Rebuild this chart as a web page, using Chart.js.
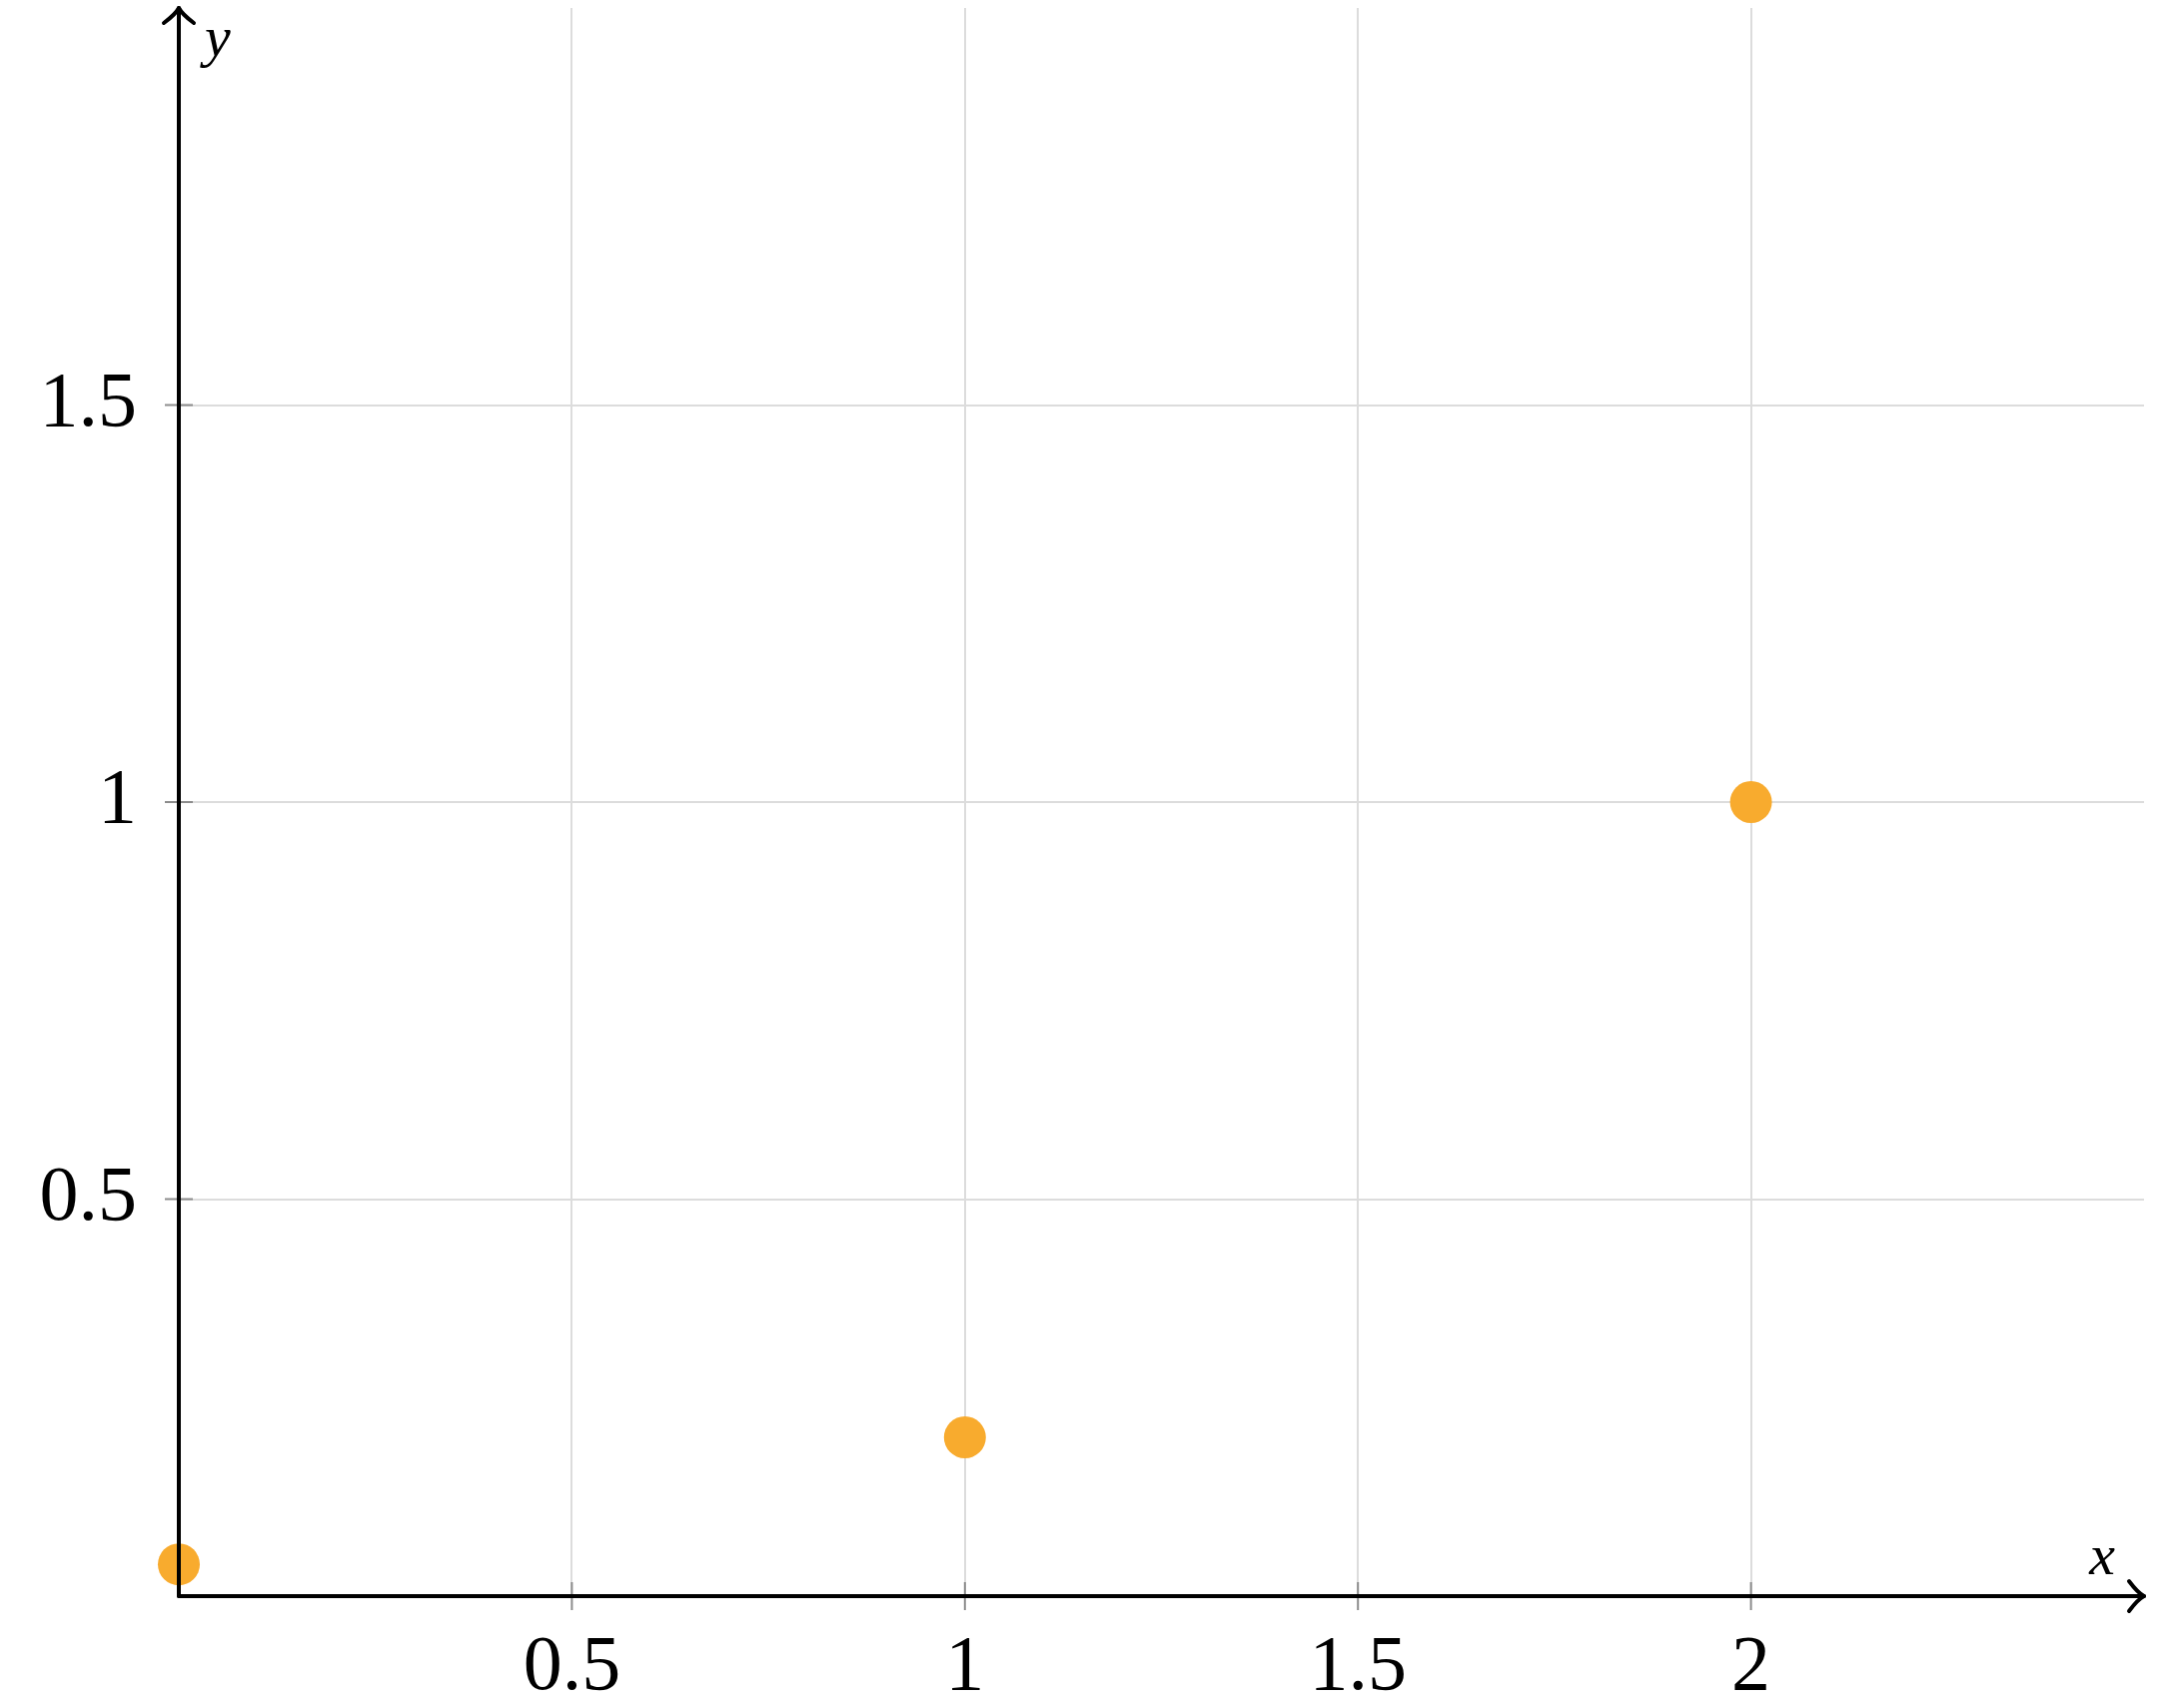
<!DOCTYPE html>
<html>
<head>
<meta charset="utf-8">
<script src="https://cdn.jsdelivr.net/npm/chart.js@4.4.1/dist/chart.umd.min.js"></script>
<style>
  html, body { margin: 0; padding: 0; background: #fff; }
  canvas { display: block; }
</style>
</head>
<body>
<canvas id="plot" width="2164" height="1710"></canvas>
<script>
// data
const xValues = [0, 1, 2];
const yValues = [0.04, 0.2, 1];
const xTicks = [0.5, 1, 1.5, 2];
const yTicks = [0.5, 1, 1.5];
const xRange = [0, 2.5];
const yRange = [0, 2];

const SERIF = "'Liberation Serif', 'DejaVu Serif', serif";
const POINT_COLOR = "#f8ab2e";
const GRID_COLOR = "#dcdcdc";

// no extra padding for the tick labels, the frame is fixed by hand
function fixBox(s, key, size) {
  s[key] = size;
  s.paddingTop = 0;
  s.paddingBottom = 0;
  s.paddingLeft = 0;
  s.paddingRight = 0;
}

// axes with arrowheads, tick marks and the x / y labels
const axesPlugin = {
  id: "axesArrows",
  afterDatasetsDraw(chart) {
    const { ctx, chartArea: a, scales } = chart;
    const x0 = scales.x.getPixelForValue(0);
    const y0 = scales.y.getPixelForValue(0);
    ctx.save();

    // tick marks crossing the axes
    ctx.strokeStyle = "#8c8c8c";
    ctx.lineWidth = 2;
    xTicks.forEach((v) => {
      const px = scales.x.getPixelForValue(v);
      ctx.beginPath();
      ctx.moveTo(px, y0 - 14);
      ctx.lineTo(px, y0 + 14);
      ctx.stroke();
    });
    yTicks.forEach((v) => {
      const py = scales.y.getPixelForValue(v);
      ctx.beginPath();
      ctx.moveTo(x0 - 14, py);
      ctx.lineTo(x0 + 14, py);
      ctx.stroke();
    });

    ctx.strokeStyle = "#000";
    ctx.lineWidth = 4;
    ctx.lineCap = "round";
    ctx.lineJoin = "round";

    // x axis
    ctx.beginPath();
    ctx.moveTo(x0, y0);
    ctx.lineTo(a.right, y0);
    ctx.stroke();
    ctx.beginPath();
    ctx.moveTo(a.right - 15, y0 - 15);
    ctx.quadraticCurveTo(a.right - 6, y0 - 3, a.right, y0);
    ctx.quadraticCurveTo(a.right - 6, y0 + 3, a.right - 15, y0 + 15);
    ctx.stroke();

    // y axis
    ctx.beginPath();
    ctx.moveTo(x0, y0);
    ctx.lineTo(x0, a.top);
    ctx.stroke();
    ctx.beginPath();
    ctx.moveTo(x0 - 15, a.top + 15);
    ctx.quadraticCurveTo(x0 - 3, a.top + 6, x0, a.top);
    ctx.quadraticCurveTo(x0 + 3, a.top + 6, x0 + 15, a.top + 15);
    ctx.stroke();

    // axis names
    ctx.fillStyle = "#000";
    ctx.font = "italic 58px " + SERIF;
    ctx.textBaseline = "alphabetic";
    ctx.textAlign = "left";
    ctx.fillText("y", x0 + 26, a.top + 48);
    ctx.textAlign = "center";
    ctx.fillText("x", a.right - 42, y0 - 22);
    ctx.restore();
  },
};

new Chart(document.getElementById("plot"), {
  type: "scatter",
  data: {
    datasets: [{
      data: xValues.map((x, i) => ({ x, y: yValues[i] })),
      backgroundColor: POINT_COLOR,
      borderWidth: 0,
      pointRadius: 21,
      pointHoverRadius: 21,
      clip: false,
    }],
  },
  options: {
    responsive: false,
    animation: false,
    devicePixelRatio: 1,
    layout: { autoPadding: false, padding: { top: 8, right: 18, left: 0, bottom: 0 } },
    plugins: {
      legend: { display: false },
      tooltip: { enabled: false },
    },
    scales: {
      x: {
        type: "linear",
        min: xRange[0],
        max: xRange[1],
        afterBuildTicks: (s) => { s.ticks = xTicks.map((v) => ({ value: v })); },
        afterFit: (s) => fixBox(s, "height", 112),
        border: { display: false },
        grid: { color: GRID_COLOR, lineWidth: 2, drawTicks: false },
        ticks: {
          padding: 26,
          color: "#000",
          font: { family: SERIF, size: 78 },
          maxRotation: 0,
          callback: (v) => String(v),
        },
      },
      y: {
        type: "linear",
        min: yRange[0],
        max: yRange[1],
        afterBuildTicks: (s) => { s.ticks = yTicks.map((v) => ({ value: v })); },
        afterFit: (s) => fixBox(s, "width", 179),
        border: { display: false },
        grid: { color: GRID_COLOR, lineWidth: 2, drawTicks: false },
        ticks: {
          padding: 42,
          color: "#000",
          font: { family: SERIF, size: 78 },
          callback: (v) => String(v),
        },
      },
    },
  },
  plugins: [axesPlugin],
});
</script>
</body>
</html>
